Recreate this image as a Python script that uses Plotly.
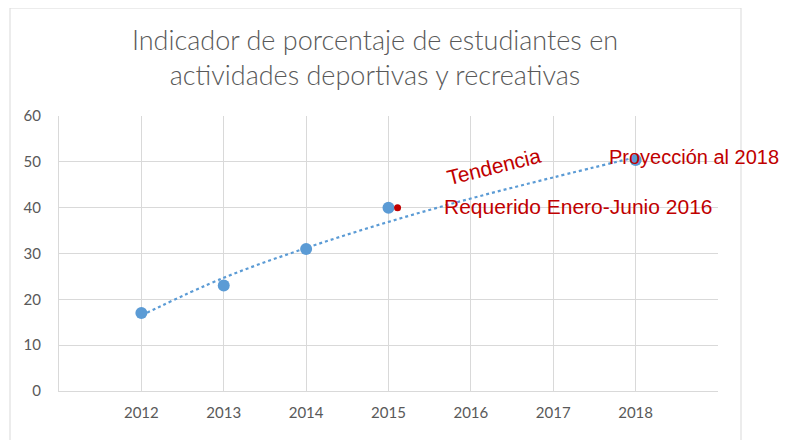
import plotly.graph_objects as go

years = [2012, 2013, 2014, 2015, 2018]
values = [17, 23, 31, 40, 50.4]
trend_years = [2012, 2013, 2014, 2015, 2016, 2017, 2018]
trend_values = [16.5, 24.7, 31.2, 36.9, 42.0, 46.6, 51.0]
req_year = [2015.11]
req_value = [40]
grid_years = [2011, 2012, 2013, 2014, 2015, 2016, 2017, 2018, 2019]
grid_labels = ["", "2012", "2013", "2014", "2015", "2016", "2017", "2018", ""]
title_text = "Indicador de porcentaje de estudiantes en<br>actividades deportivas y recreativas"

gray = "#595959"
red = "#C00000"
blue = "#5B9BD5"

W, H = 791, 440  # page body has an 8px margin

fig = go.Figure()
fig.add_trace(go.Scatter(x=trend_years, y=trend_values, mode="lines",
                         line=dict(color=blue, width=2.2, dash="dot", shape="spline"),
                         hoverinfo="skip"))
fig.add_trace(go.Scatter(x=years, y=values, mode="markers",
                         marker=dict(color=blue, size=12)))
fig.add_trace(go.Scatter(x=req_year, y=req_value, mode="markers",
                         marker=dict(color=red, size=7)))

pl, pt = 51, 108
pw, ph = 659, 275
pr, pb = W - pl - pw, H - pt - ph

fig.update_layout(
    width=W, height=H,
    margin=dict(l=pl, r=pr, t=pt, b=pb),
    paper_bgcolor="white", plot_bgcolor="white",
    showlegend=False,
    title=dict(text=title_text, x=(375 - 8) / W, xanchor="center", xref="container",
               y=1 - 42 / H, yanchor="top", yref="container",
               font=dict(family="Lato", size=27, color=gray, weight=300)),
    xaxis=dict(range=[2011, 2019], tickvals=grid_years, ticktext=grid_labels,
               showgrid=True, gridcolor="#D9D9D9", gridwidth=1,
               showline=True, linecolor="#D9D9D9", linewidth=1,
               zeroline=False, ticks="", ticklabelstandoff=8,
               tickfont=dict(family="Lato", size=15, color=gray)),
    yaxis=dict(range=[0, 60], tickvals=[0, 10, 20, 30, 40, 50, 60],
               showgrid=True, gridcolor="#D9D9D9", gridwidth=1,
               showline=True, linecolor="#D9D9D9", linewidth=1,
               zeroline=False, ticks="", ticklabelstandoff=14,
               tickfont=dict(family="Lato", size=15, color=gray)),
    shapes=[dict(type="rect", xref="x domain", yref="y domain",
                 x0=(2 - pl) / pw, x1=(733 - pl) / pw,
                 y0=-(H - pt - ph + 5) / ph, y1=(ph + pt - 0) / ph,
                 line=dict(color="#D9D9D9", width=1), layer="below")],
    annotations=[
        dict(x=2018, y=50.4, xref="x", yref="y", text="Proyección al 2018", showarrow=False,
             xanchor="left", yanchor="middle", xshift=-29, yshift=3,
             font=dict(family="Liberation Sans", size=20, color=red)),
        dict(x=2015, y=40, xref="x", yref="y", text="Requerido Enero-Junio 2016", showarrow=False,
             xanchor="left", yanchor="middle", xshift=53, yshift=1,
             font=dict(family="Liberation Sans", size=21, color=red)),
        dict(x=2016.28, y=49.0, xref="x", yref="y", text="Tendencia", showarrow=False,
             textangle=-14, font=dict(family="Liberation Sans", size=21, color=red)),
    ],
)

fig.write_html("out.html")
